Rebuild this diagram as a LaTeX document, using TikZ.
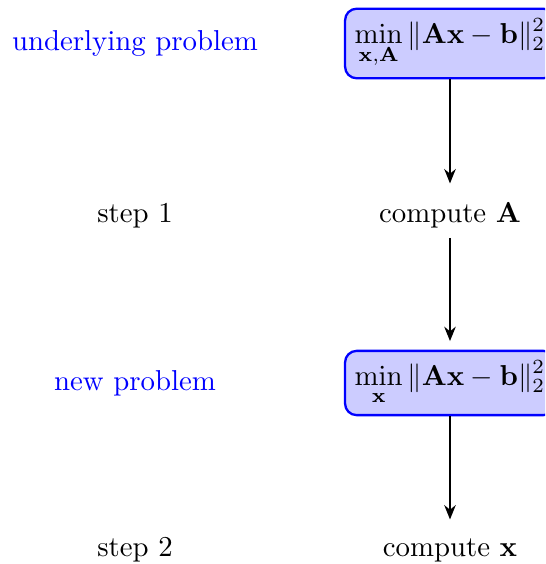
\documentclass[tikz,border=0pt]{standalone}
\usepackage{amsmath, amssymb}
\usetikzlibrary{arrows.meta, positioning}

\tikzset{
  probbox/.style={draw=blue, thick, fill=blue!20, rounded corners=4pt},
  tag/.style={anchor=base},
  flow/.style={-{Stealth[length=5pt, width=4pt]}, semithick, shorten >=3pt}
}

\begin{document}
\begin{tikzpicture}[x=0.3472pt, y=-0.3472pt]
  \clip (0,0) rectangle (545,564);
  \useasboundingbox (0,0) rectangle (545,564);

  % left column
  \node[tag, text=blue] (under) at (135, 50) {underlying problem};
  \node[tag] (step1) at (135, 222) {step 1};
  \node[tag, text=blue] (newp) at (135, 390) {new problem};
  \node[tag] (step2) at (135, 556) {step 2};

  % right column
  \node[probbox] (full) at (450, 43.5) {$\displaystyle\min_{\mathbf{x},\mathbf{A}} \|\mathbf{A}\mathbf{x}-\mathbf{b}\|_2^2$};
  \node[tag] (compA) at (450, 222) {compute $\mathbf{A}$};
  \node[probbox] (reduced) at (450, 383) {$\displaystyle\min_{\mathbf{x}} \|\mathbf{A}\mathbf{x}-\mathbf{b}\|_2^2$};
  \node[tag] (compx) at (450, 556) {compute $\mathbf{x}$};

  \draw[flow] (full) -- (compA);
  \draw[flow] (compA) -- (reduced);
  \draw[flow] (reduced) -- (compx);
\end{tikzpicture}
\end{document}
